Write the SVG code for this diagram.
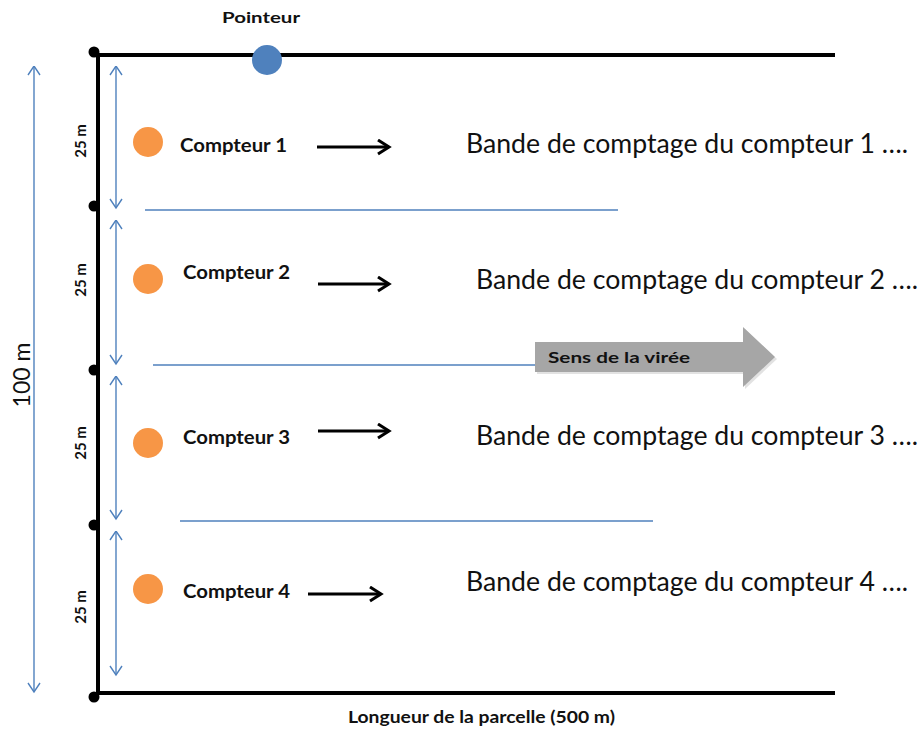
<svg xmlns="http://www.w3.org/2000/svg" width="921" height="753" viewBox="0 0 921 753">
<style>
.frame{stroke:#000;stroke-width:4;fill:none;stroke-linecap:butt}
.dot{fill:#000}
.blue{stroke:#4f81bd;stroke-width:1.4;fill:none}
.dim{stroke:#4f81bd;stroke-width:1.4;fill:none;marker-start:url(#bhS);marker-end:url(#bhE)}
.barrow{stroke:#000;stroke-width:3;fill:none;marker-end:url(#kh)}
.cnt{fill:#f79646}
.lbl{font-family:Lato,"Liberation Sans",sans-serif;font-weight:bold;fill:#111}
.band{font-family:Lato,"Liberation Sans",sans-serif;font-size:26px;fill:#111}
.m25{font-family:Lato,"Liberation Sans",sans-serif;font-weight:bold;font-size:15px;fill:#111}
</style>
<defs>
<marker id="bhE" markerUnits="userSpaceOnUse" markerWidth="20" markerHeight="20" refX="10" refY="7" orient="auto"><path d="M1,1 L10,7 L1,13" fill="none" stroke="#4f81bd" stroke-width="1.4"/></marker>
<marker id="bhS" markerUnits="userSpaceOnUse" markerWidth="20" markerHeight="20" refX="0" refY="7" orient="auto"><path d="M9,1 L0,7 L9,13" fill="none" stroke="#4f81bd" stroke-width="1.4"/></marker>
<marker id="kh" markerUnits="userSpaceOnUse" markerWidth="20" markerHeight="20" refX="14" refY="8" orient="auto"><path d="M3,1 L14,8 L3,15" fill="none" stroke="#000" stroke-width="3"/></marker>
</defs>
<rect width="921" height="753" fill="#fff"/>
<g id="parcelle">
<path class="frame" d="M835,55 L98,55 L98,693 L835,693"/>
<circle class="dot" cx="94" cy="52" r="5.5"/>
<circle class="dot" cx="94" cy="206" r="5.5"/>
<circle class="dot" cx="94" cy="370" r="5.5"/>
<circle class="dot" cx="94" cy="525" r="5.5"/>
<circle class="dot" cx="94" cy="697" r="5.5"/>
</g>
<g id="separateurs">
<line class="blue" x1="145" y1="210" x2="618" y2="210"/>
<line class="blue" x1="153" y1="365" x2="540" y2="365"/>
<line class="blue" x1="180" y1="521" x2="653" y2="521"/>
</g>
<g id="connectors">
<line class="dim" x1="34" y1="66" x2="34" y2="692"/>
<line class="dim" x1="116" y1="66" x2="116" y2="208"/>
<line class="dim" x1="116" y1="220" x2="116" y2="364"/>
<line class="dim" x1="116" y1="376" x2="116" y2="519"/>
<line class="dim" x1="116" y1="531" x2="116" y2="675"/>
<line class="barrow" x1="317" y1="147" x2="389" y2="147"/>
<line class="barrow" x1="318" y1="284" x2="389" y2="284"/>
<line class="barrow" x1="318" y1="431" x2="389" y2="431"/>
<line class="barrow" x1="308" y1="594" x2="381" y2="594"/>
</g>
<g id="cotes">
<text transform="translate(30,375) rotate(-90)" text-anchor="middle" font-family="Lato,'Liberation Sans',sans-serif" font-size="23" fill="#111">100 m</text>
<text class="m25" transform="translate(86,141) rotate(-90)" text-anchor="middle">25 m</text>
<text class="m25" transform="translate(86,280) rotate(-90)" text-anchor="middle">25 m</text>
<text class="m25" transform="translate(86,443) rotate(-90)" text-anchor="middle">25 m</text>
<text class="m25" transform="translate(86,607) rotate(-90)" text-anchor="middle">25 m</text>
</g>
<g id="pointeur">
<circle cx="267" cy="60" r="15" fill="#4f81bd"/>
<text class="lbl" x="222" y="23" font-size="16" textLength="78" lengthAdjust="spacingAndGlyphs">Pointeur</text>
</g>
<g id="compteur1">
<circle class="cnt" cx="148" cy="142" r="15"/>
<text class="lbl" x="180" y="152" font-size="18" textLength="107" lengthAdjust="spacingAndGlyphs">Compteur 1</text>
</g>
<g id="compteur2">
<circle class="cnt" cx="148" cy="279" r="15"/>
<text class="lbl" x="183" y="279" font-size="18" textLength="107" lengthAdjust="spacingAndGlyphs">Compteur 2</text>
</g>
<g id="compteur3">
<circle class="cnt" cx="148" cy="443" r="15"/>
<text class="lbl" x="183" y="444" font-size="18" textLength="107" lengthAdjust="spacingAndGlyphs">Compteur 3</text>
</g>
<g id="compteur4">
<circle class="cnt" cx="148" cy="589" r="15"/>
<text class="lbl" x="183" y="598" font-size="18" textLength="107" lengthAdjust="spacingAndGlyphs">Compteur 4</text>
</g>
<g id="bande1"><text class="band" x="466" y="153" textLength="442" lengthAdjust="spacingAndGlyphs">Bande de comptage du compteur 1 ….</text></g>
<g id="bande2"><text class="band" x="476" y="289" textLength="442" lengthAdjust="spacingAndGlyphs">Bande de comptage du compteur 2 ….</text></g>
<g id="bande3"><text class="band" x="476" y="445" textLength="442" lengthAdjust="spacingAndGlyphs">Bande de comptage du compteur 3 ….</text></g>
<g id="bande4"><text class="band" x="466" y="591" textLength="442" lengthAdjust="spacingAndGlyphs">Bande de comptage du compteur 4 ….</text></g>
<g id="sens">
<polygon points="537,344 745,344 745,329 777,359 745,389 745,374 537,374" fill="#8c8c8c" opacity="0.25"/>
<polygon points="535,342 743,342 743,327 775,357 743,387 743,372 535,372" fill="#a6a6a6"/>
<text class="lbl" x="548" y="363" font-size="16" textLength="142" lengthAdjust="spacingAndGlyphs" fill="#1a1a1a">Sens de la virée</text>
</g>
<g id="longueur">
<text class="lbl" x="348" y="723" font-size="17" textLength="267" lengthAdjust="spacingAndGlyphs">Longueur de la parcelle (500 m)</text>
</g>
</svg>
